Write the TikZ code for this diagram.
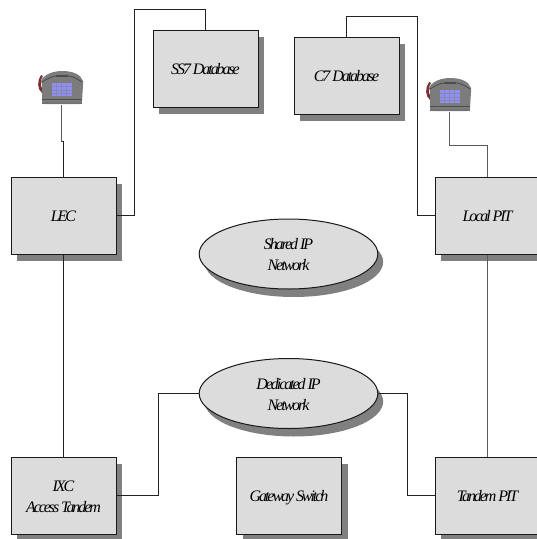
\documentclass[tikz,border=0pt]{standalone}
\usepackage{fontspec}
\setmainfont{Liberation Serif}
\newfontfamily\lblfont[LetterSpace=-13,Ligatures=NoCommon]{Liberation Serif}
\usetikzlibrary{shapes.geometric,shadows}
\definecolor{boxfill}{HTML}{DCDCDC}
\definecolor{shadowc}{HTML}{808080}
\definecolor{phonec}{HTML}{7C7C7C}
\definecolor{keyc}{HTML}{9090F0}
\definecolor{cordc}{HTML}{7A3030}
\definecolor{wirec}{HTML}{222222}
\newcommand{\lbltext}[1]{\raisebox{-1.6pt}[\height][\depth]{\begin{tabular}{@{}c@{}}#1\end{tabular}}}
\tikzset{
  x=0.75pt,y=-0.75pt,
  lbl/.style={font=\lblfont\itshape\fontsize{12pt}{15.5pt}\selectfont,text=black},
  sysbox/.style={lbl,draw=black!90,line width=0.75pt,fill=boxfill,inner sep=0pt,
    minimum width=78.75pt,minimum height=57.75pt,
    drop shadow={shadow xshift=4.5pt,shadow yshift=-5.5pt,fill=shadowc,opacity=1}},
  cloud/.style={lbl,ellipse,draw=black!90,line width=0.75pt,fill=boxfill,inner sep=0pt,
    minimum width=134pt,minimum height=52.5pt,
    drop shadow={shadow xshift=4pt,shadow yshift=-6pt,fill=shadowc,opacity=1}},
  wire/.style={draw=wirec,line width=0.8pt},
  greywire/.style={draw=shadowc!70!black,line width=0.8pt},
  phone/.pic={
    \fill[cordc] (-21,-14) .. controls (-25,-8) and (-25,0) .. (-20,4) -- (-19,1) .. controls (-22,-3) and (-22,-9) .. (-19,-13) -- cycle;
    \fill[phonec] (-21,-8) .. controls (-18,-15) and (-8,-18) .. (0,-18) .. controls (10,-18) and (19,-15) .. (21,-8) -- (21,-4) -- (20,12) .. controls (20,14) and (19,15) .. (17,15) -- (-17,15) .. controls (-19,15) and (-20,14) .. (-20,12) -- (-20,-4) -- cycle;
    \draw[black!75,line width=0.5pt] (-20,-7) .. controls (-12,-12) and (-8,-13) .. (-6,-13) -- (6,-13) .. controls (10,-13) and (14,-11) .. (20,-7);
    \fill[black!70] (-6,-14) rectangle (6,-12.5);
    \fill[black!70] (-20,10) rectangle (20,11);
    \fill[black!55] (-20,13) rectangle (20,15);
    \fill[keyc] (-10,-6.5) rectangle (10,7);
    \foreach \gx in {-6,-1,4}{\draw[phonec!50!keyc,line width=0.4pt] (\gx,-6.5) -- (\gx,7);}
    \foreach \gy in {-3,1,4}{\draw[phonec!50!keyc,line width=0.4pt] (-10,\gy) -- (10,\gy);}
  }
}
\begin{document}
\begin{tikzpicture}
\useasboundingbox (0,0) rectangle (536,539);
% boxes
\node[sysbox] (ss7) at (205.5,68.5) {\lbltext{SS7 Database}};
\node[sysbox] (c7) at (346.5,75.5) {\lbltext{C7 Database}};
\node[sysbox] (lec) at (63.5,215.5) {\lbltext{LEC}};
\node[sysbox] (local) at (487.5,215.5) {\lbltext{Local PIT}};
\node[sysbox] (ixc) at (63.5,495.5) {\lbltext{IXC\\Access Tandem}};
\node[sysbox] (gateway) at (289,495.5) {\lbltext{Gateway Switch}};
\node[sysbox] (tandem) at (487.5,495.5) {\lbltext{Tandem PIT}};
% ellipses
\node[cloud] (shared) at (288.5,254) {\lbltext{Shared IP\\Network}};
\node[cloud] (dedicated) at (288.5,393.5) {\lbltext{Dedicated IP\\Network}};
% phones
\coordinate (phoneA) at (62,89);
\coordinate (phoneB) at (450,96);
\pic at (phoneA) {phone};
\pic at (phoneB) {phone};
\coordinate (pa) at (61.5,105);
\coordinate (pam) at (61.5,141.5);
\coordinate (pan) at (63.5,141.5);
\coordinate (pb) at (449.5,112);
\coordinate (pbm) at (449.5,145.5);
% connectors
\draw[greywire] (pa) -- (pam);
\draw[wire] (pam) -- (pan) -- (lec.north);
\draw[greywire] (pb) -- (pbm) -| (local.north);
\draw[wire] (lec.east) -- (134.5,215.5) |- (205.5,9.5) -- (ss7.north);
\draw[wire] (c7.north) |- (417.5,16.5) |- (local.west);
\draw[wire] (lec.south) -- (ixc.north);
\draw[greywire] (local.south) -- (tandem.north);
\draw[wire] (ixc.east) -| (158.5,393.5) -- (dedicated.west);
\draw[wire] (dedicated.east) -| (407.5,495.5) -- (tandem.west);
\end{tikzpicture}
\end{document}
